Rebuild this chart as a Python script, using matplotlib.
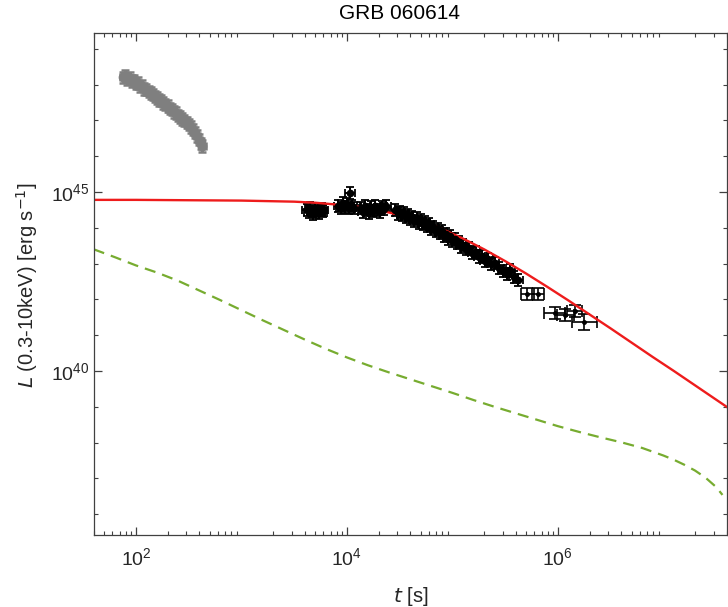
import numpy as np
import matplotlib.pyplot as plt
from matplotlib.ticker import LogLocator, NullFormatter

plt.rcParams['font.family'] = ['Liberation Sans', 'DejaVu Sans']

# BAT (early) data: log10 t [s], log10 L [erg/s]
bat_logt = [1.88, 1.90, 1.92, 1.94, 1.96, 1.98, 2.00, 2.02, 2.04, 2.06,
            2.08, 2.10, 2.12, 2.14, 2.16, 2.18, 2.20, 2.22, 2.24, 2.26,
            2.28, 2.30, 2.32, 2.34, 2.36, 2.38, 2.40, 2.42, 2.44, 2.46,
            2.48, 2.50, 2.52, 2.54, 2.56, 2.58, 2.60, 2.62, 2.63]
bat_logL = [48.20, 48.25, 48.15, 48.18, 48.10, 48.12, 48.03, 48.05, 47.95, 47.97,
            47.88, 47.86, 47.80, 47.76, 47.72, 47.66, 47.63, 47.57, 47.55, 47.48,
            47.44, 47.40, 47.33, 47.30, 47.24, 47.20, 47.14, 47.10, 47.04, 47.00,
            46.94, 46.88, 46.82, 46.74, 46.66, 46.56, 46.46, 46.36, 46.28]
bat_dlogt = 0.03
bat_dlogL = 0.16

# XRT data, dense part
xrt_logt = [3.62, 3.64, 3.65, 3.67, 3.68, 3.70, 3.71, 3.73, 3.74, 3.76, 3.77, 3.78,
            3.92, 3.94, 3.96, 3.98, 4.00, 4.02, 4.03, 4.05, 4.07,
            4.13, 4.15, 4.17, 4.19, 4.21, 4.23, 4.25, 4.27, 4.29, 4.31, 4.33, 4.35, 4.37,
            4.46, 4.48, 4.50, 4.52, 4.54, 4.56, 4.58, 4.60, 4.62, 4.64, 4.66, 4.68,
            4.70, 4.72, 4.74, 4.76, 4.78, 4.80, 4.82, 4.84, 4.86, 4.88, 4.90, 4.92,
            4.94, 4.96, 4.98, 5.00, 5.02, 5.04, 5.06, 5.08, 5.10, 5.13, 5.16, 5.19,
            5.22, 5.25, 5.28, 5.31, 5.34, 5.37, 5.40, 5.44, 5.48, 5.52, 5.55, 5.58, 5.62]
xrt_logL = [44.50, 44.44, 44.55, 44.47, 44.40, 44.52, 44.45, 44.49, 44.42, 44.53, 44.46, 44.50,
            44.62, 44.55, 44.68, 44.58, 44.65, 44.55, 44.98, 44.62, 44.56,
            44.55, 44.45, 44.60, 44.50, 44.42, 44.57, 44.48, 44.60, 44.50, 44.44, 44.58, 44.52, 44.62,
            44.50, 44.40, 44.45, 44.35, 44.42, 44.30, 44.36, 44.25, 44.31, 44.20, 44.26, 44.15,
            44.21, 44.10, 44.15, 44.05, 44.10, 43.98, 44.03, 43.92, 43.97, 43.85, 43.90, 43.78,
            43.83, 43.70, 43.76, 43.64, 43.69, 43.57, 43.60, 43.48, 43.52, 43.40, 43.43, 43.30,
            43.33, 43.18, 43.22, 43.08, 43.12, 42.98, 43.02, 42.88, 42.80, 42.72, 42.82, 42.62, 42.55]
xrt_dlogt = 0.045
xrt_dlogL = 0.17

# XRT late points (sparse, larger bars)
late_logt = [5.71, 5.81, 5.97, 6.07, 6.16, 6.25]
late_logL = [42.15, 42.15, 41.62, 41.56, 41.68, 41.37]
late_dlogt = [0.06, 0.06, 0.10, 0.08, 0.07, 0.12]
late_dlogL = [0.18, 0.18, 0.17, 0.17, 0.17, 0.22]

# spin-down model (red) and second component (green dashed)
red_logt = [1.60, 2.0, 2.5, 3.0, 3.5, 3.7, 3.9, 4.1, 4.3, 4.5, 4.7, 4.9, 5.1, 5.3,
            5.5, 5.7, 5.9, 6.1, 6.3, 6.5, 6.7, 6.9, 7.1, 7.3, 7.5, 7.6]
red_logL = [44.78, 44.78, 44.77, 44.76, 44.73, 44.70, 44.65, 44.59, 44.49, 44.36,
            44.19, 43.97, 43.70, 43.40, 43.07, 42.72, 42.35, 41.97, 41.58, 41.19,
            40.79, 40.39, 40.00, 39.60, 39.20, 39.00]
grn_logt = [1.6, 1.8, 2.0, 2.2, 2.4, 2.6, 2.8, 3.0, 3.2, 3.4, 3.6, 3.8, 4.0, 4.2,
            4.4, 4.6, 4.8, 5.0, 5.2, 5.4, 5.6, 5.8, 6.0, 6.2, 6.4, 6.6, 6.8, 7.0,
            7.1, 7.2, 7.3, 7.4, 7.5, 7.56]
grn_logL = [43.40, 43.18, 42.95, 42.75, 42.52, 42.25, 41.98, 41.70, 41.42, 41.15,
            40.88, 40.62, 40.38, 40.16, 39.96, 39.77, 39.58, 39.39, 39.19, 39.00,
            38.82, 38.64, 38.46, 38.30, 38.15, 38.01, 37.85, 37.64, 37.52, 37.38,
            37.22, 37.02, 36.76, 36.54]


def werr(logt, logL, dlt, dlL):
    logt = np.asarray(logt); logL = np.asarray(logL)
    t = 10**logt; L = 10**logL
    xe = [t - 10**(logt - dlt), 10**(logt + dlt) - t]
    ye = [L - 10**(logL - dlL), 10**(logL + dlL) - L]
    return t, L, xe, ye


fig = plt.figure(figsize=(7.28, 6.07), dpi=100)
ax = fig.add_axes([0.129, 0.1186, 0.8695, 0.827])

t, L, xe, ye = werr(bat_logt, bat_logL, bat_dlogt, bat_dlogL)
ax.errorbar(t, L, xerr=xe, yerr=ye, fmt='o', color='#7f7f7f', ms=6,
            elinewidth=2.2, capsize=3, capthick=1.8)

t, L, xe, ye = werr(xrt_logt, xrt_logL, xrt_dlogt, xrt_dlogL)
ax.errorbar(t, L, xerr=xe, yerr=ye, fmt='o', color='black', ms=4.5,
            elinewidth=1.4, capsize=3, capthick=1.3)

t, L, xe, ye = werr(late_logt, late_logL, np.array(late_dlogt), np.array(late_dlogL))
ax.errorbar(t, L, xerr=xe, yerr=ye, fmt='.', color='black', ms=5,
            elinewidth=1.2, capsize=4, capthick=1.2)

ax.plot(10**np.array(grn_logt), 10**np.array(grn_logL), '--', color='#77ac30',
        lw=1.6, dashes=(5, 3.2))
ax.plot(10**np.array(red_logt), 10**np.array(red_logL), '-', color='#ee1c1c', lw=1.7)

ax.set_xscale('log')
ax.set_yscale('log')
ax.set_xlim(40, 4e7)
ax.set_ylim(10**35.42, 10**49.44)

ax.set_xticks([1e2, 1e4, 1e6])
ax.xaxis.set_minor_locator(LogLocator(base=10, subs=np.arange(2, 10), numticks=50))
ax.xaxis.set_minor_formatter(NullFormatter())
ax.set_yticks([1e40, 1e45])
ax.yaxis.set_minor_locator(LogLocator(base=10, subs=[1.0], numticks=50))
ax.yaxis.set_minor_formatter(NullFormatter())

for s in ax.spines.values():
    s.set_color('#404040')
    s.set_linewidth(0.9)
ax.tick_params(which='both', direction='in', top=True, right=True, colors='#404040',
               labelcolor='#262626', labelsize=14)
ax.tick_params(which='major', length=6, width=0.9)
ax.tick_params(which='minor', length=3, width=0.8)
ax.tick_params(axis='x', pad=9)

ax.set_xlabel('$t$ [s]', fontsize=14.5, color='#262626')
ax.xaxis.set_label_coords(0.5, -0.100)
ax.set_ylabel('$L$ (0.3-10keV) [erg s$^{-1}$]', fontsize=14.5, color='#262626')
ax.yaxis.set_label_coords(-0.085, 0.498)
ax.text(0.482, 1.02, 'GRB 060614', transform=ax.transAxes, ha='center', va='bottom',
        fontsize=15, color='black')

fig.savefig('out.png', dpi=100)
